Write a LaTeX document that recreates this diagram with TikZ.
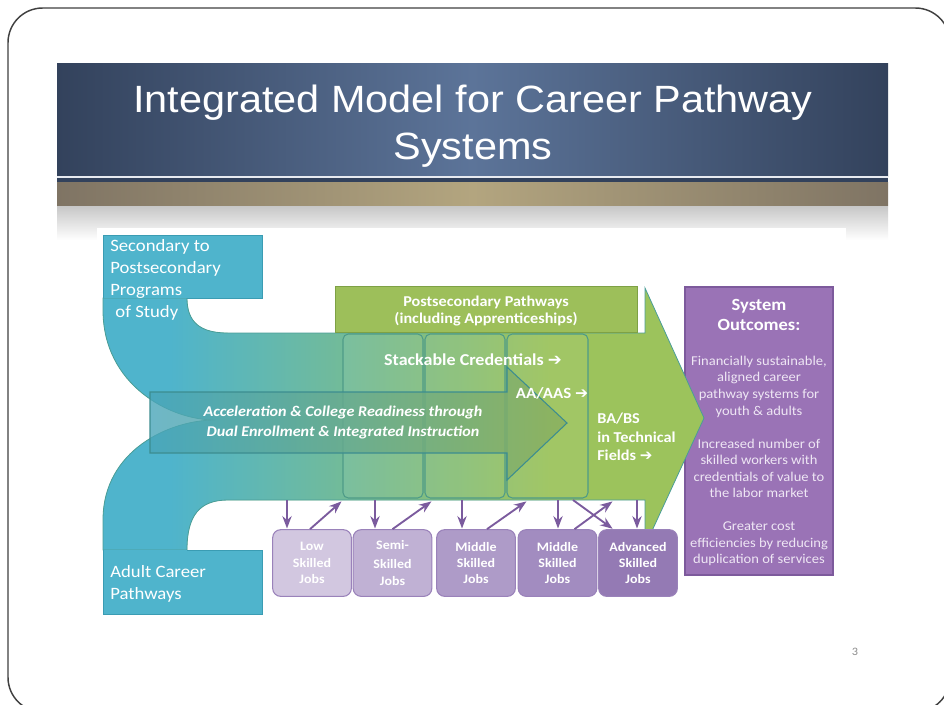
\documentclass[tikz,border=0pt]{standalone}
\usepackage{fontspec}
\setmainfont[FakeStretch=1.08]{Carlito}
\newfontfamily\titlefont[FakeStretch=1.09]{Liberation Sans}
\newfontfamily\symfont{DejaVu Sans}
\usepackage{tikz}
\usetikzlibrary{arrows.meta,calc}
\definecolor{bannerdark}{HTML}{33425C}
\definecolor{bannermid}{HTML}{5C7499}
\definecolor{tandark}{HTML}{7F7464}
\definecolor{tanmid}{HTML}{B3A57F}
\definecolor{cteal}{HTML}{4FB4CC}
\definecolor{ctealedge}{HTML}{3A9CB3}
\definecolor{cgreen}{HTML}{9CC35C}
\definecolor{cgreenedge}{HTML}{6F9E58}
\definecolor{cpost}{HTML}{9DBF5A}
\definecolor{cpostedge}{HTML}{7EA145}
\definecolor{crededge}{HTML}{4E9B88}
\definecolor{accleft}{HTML}{49A5B9}
\definecolor{accright}{HTML}{89AF5E}
\definecolor{accedge}{HTML}{3C8D90}
\definecolor{outfill}{HTML}{9A73B6}
\definecolor{outedge}{HTML}{7D5A9C}
\definecolor{outtext}{HTML}{EEE6F4}
\definecolor{jobedge}{HTML}{9A82BA}
\definecolor{jobline}{HTML}{7B5B9E}
\newcommand{\arr}{{\symfont\char"2794}}
\tikzset{
  >=Stealth,
  titletext/.style={font=\titlefont\fontsize{28.5}{35}\selectfont, text=white, align=center},
  paneltext/.style={font=\fontsize{13}{16.5}\selectfont, text=white, align=left, inner sep=0pt},
  boldtext/.style={font=\bfseries\fontsize{11.25}{12.75}\selectfont, text=white, align=center, inner sep=0pt},
  credbox/.style={draw=crededge, line width=0.8pt, rounded corners=4pt, fill=white, fill opacity=0.06},
  jobbox/.style={rectangle, draw=jobedge, line width=0.8pt, rounded corners=6pt, minimum width=59pt, minimum height=50pt, inner sep=0pt, font=\bfseries\fontsize{9.7}{12.3}\selectfont, text=white, align=center},
  jobarrow/.style={->, draw=jobline, line width=1.4pt, shorten >=0.5pt}
}
\begin{document}
\begin{tikzpicture}[x=0.75pt, y=-0.75pt]
    \useasboundingbox (0,0) rectangle (944,704);
    \fill[white] (0,0) rectangle (944,704);
    % slide frame
    \draw[line width=1.1pt, black!75, rounded corners=26pt] (8,8) rectangle (950,712);

    % title banner
    \shade[left color=bannerdark, right color=bannerdark, middle color=bannermid] (57,63) rectangle (888,176);
    \fill[white!85!bannermid] (57,176) rectangle (888,178);
    \fill[bannerdark] (57,178) rectangle (888,182);
    \shade[left color=tandark, right color=tandark, middle color=tanmid] (57,182) rectangle (888,205);
    \shade[top color=black!22, bottom color=white] (57,206) rectangle (888,240);
    \fill[white] (97,228) rectangle (846,622);
    \node[titletext] (title1) at (473,103) {Integrated Model for Career Pathway};
    \node[titletext] (title2) at (473,150) {Systems};

    % system outcomes box (the arrow head sits over its edge)
    \draw[outedge, fill=outfill, line width=0.8pt] (685,287) rectangle (833,575);

    % teal-to-green band with the big arrow head
    \path[draw=ctealedge!70!cgreenedge, line width=0.6pt,
          path picture={
            \fill[cgreen] (95,280) rectangle (710,560);
            \shade[left color=cteal, right color=cgreen] (170,280) rectangle (550,560);
            \fill[cteal] (95,280) rectangle (171,560);
          }]
      (103,298) -- (187,298) .. controls (187,322) and (200,333) .. (228,333)
      -- (645,333) -- (645,288) -- (704,418) -- (645,546) -- (645,500)
      -- (228,500) .. controls (200,500) and (187,515) .. (187,550)
      -- (103,550) -- (103,520) .. controls (103,450) and (170,420) .. (215,420)
      .. controls (170,420) and (103,385) .. (103,310) -- cycle;

    % entry boxes
    \fill[cteal] (103,235) rectangle (262,298);
    \draw[ctealedge, line width=0.6pt] (103,298) -- (103,235) -- (262,235) -- (262,298) -- (187,298);
    \fill[cteal] (103,550) rectangle (262,614);
    \draw[ctealedge, line width=0.6pt] (187,550) -- (262,550) -- (262,614) -- (103,614) -- (103,550);
    \node[paneltext, anchor=north west] (sectxt) at (110,239)
      {Secondary to\\Postsecondary\\Programs\\\hspace{0.3em}of Study};
    \node[paneltext, anchor=west] (adulttxt) at (110,584) {Adult Career\\Pathways};

    % postsecondary pathways
    \draw[cpostedge, fill=cpost, line width=0.6pt] (335,286) rectangle (637,332);
    \node[boldtext] (posttxt) at (486,311) {Postsecondary Pathways\\(including Apprenticeships)};

    % stackable credential columns
    \draw[credbox] (343,334) rectangle (423,498);
    \draw[credbox] (425,334) rectangle (505,498);
    \draw[credbox] (507,334) rectangle (588,498);

    % acceleration arrow
    \path[draw=accedge, line width=0.8pt, left color=accleft, right color=accright, fill opacity=0.8]
      (150,392) -- (507,392) -- (507,367) -- (567,423) -- (507,480) -- (507,453) -- (150,453) -- cycle;
    \node[boldtext, font=\bfseries\itshape\fontsize{11.2}{15}\selectfont] (acctxt) at (343,423)
      {Acceleration \& College Readiness through\\Dual Enrollment \& Integrated Instruction};

    \node[boldtext, font=\bfseries\fontsize{12.5}{14}\selectfont] (stacktxt) at (473,360) {Stackable Credentials \arr};
    \node[boldtext, font=\bfseries\fontsize{11.7}{14}\selectfont] (aatxt) at (552,393) {AA/AAS \arr};
    \node[boldtext, align=left, anchor=west, font=\bfseries\fontsize{11.3}{14}\selectfont] (batxt) at (597,437)
      {BA/BS\\in Technical\\Fields \arr};

    % system outcomes text
    \node[boldtext, font=\bfseries\fontsize{12.8}{15}\selectfont] (outtitle) at (759,315) {System\\Outcomes:};
    \node[align=center, inner sep=0pt, text=outtext, font=\fontsize{10.1}{12.4}\selectfont] (outbody) at (759,461)
      {Financially sustainable,\\aligned career\\pathway systems for\\youth \& adults\\[12.4pt]
       Increased number of\\skilled workers with\\credentials of value to\\the labor market\\[12.4pt]
       Greater cost\\efficiencies by reducing\\duplication of services};

    % job levels
    \node[jobbox, fill=jobedge!45!white] (job1) at (312,563) {Low\\Skilled\\Jobs};
    \node[jobbox, fill=jobedge!62!white] (job2) at (392.5,563) {Semi-\\[2pt]Skilled\\[1pt]Jobs};
    \node[jobbox, fill=jobedge!80!white] (job3) at (476,563) {Middle\\Skilled\\Jobs};
    \node[jobbox, fill=jobedge!92!white] (job4) at (557.5,563) {Middle\\Skilled\\Jobs};
    \node[jobbox, fill=jobedge!80!outedge] (job5) at (638,563) {Advanced\\Skilled\\Jobs};

    % exits from the pathway down to jobs
    \coordinate (d1) at (287,500);
    \coordinate (d2) at (375,500);
    \coordinate (d3) at (462,500);
    \coordinate (d4) at (558,500);
    \coordinate (d5) at (637,500);
    \coordinate (d6) at (573,500);
    \draw[jobarrow] (d1) -- (d1 |- job1.north);
    \draw[jobarrow] (d2) -- (d2 |- job2.north);
    \draw[jobarrow] (d3) -- (d3 |- job3.north);
    \draw[jobarrow] (d4) -- (d4 |- job4.north);
    \draw[jobarrow] (d5) -- (d5 |- job5.north);
    \draw[jobarrow] (d6) -- ($(job5.north west)+(15,0)$);
    % re-entry from jobs back into the pathway
    \coordinate (u1) at (342,501);
    \coordinate (u2) at (432,501);
    \coordinate (u3) at (527,501);
    \coordinate (u4) at (613,501);
    \draw[jobarrow] ($(job1.north)+(-2,0)$) -- (u1);
    \draw[jobarrow] ($(job2.north)+(0,0)$) -- (u2);
    \draw[jobarrow] ($(job3.north)+(11,0)$) -- (u3);
    \draw[jobarrow] ($(job4.north)+(17,0)$) -- (u4);

    \node[text=black!45, font=\fontsize{8.5}{10}\selectfont] (pagenum) at (855,652) {3};
\end{tikzpicture}
\end{document}
